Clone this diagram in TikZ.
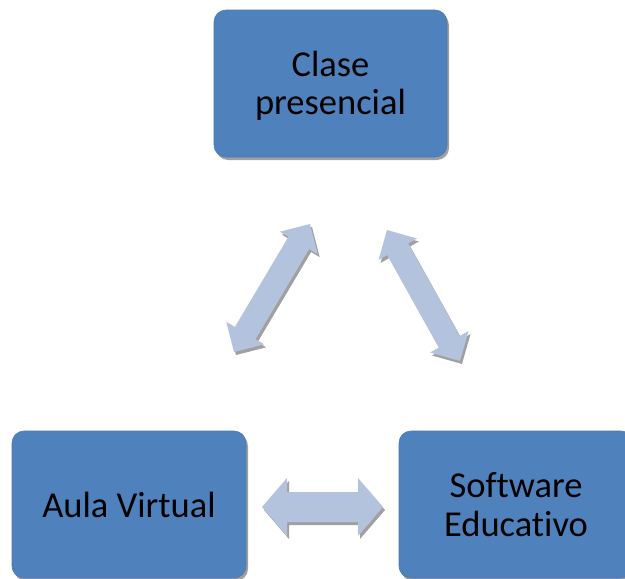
\documentclass[tikz,border=0pt]{standalone}
\usepackage{fontspec}
\setmainfont{Carlito}[Ligatures={NoCommon}]
\usetikzlibrary{calc,shadows}
\definecolor{boxblue}{HTML}{4F81BD}
\definecolor{boxedge}{HTML}{4A7AB3}
\definecolor{arrowfill}{HTML}{B3C3DE}
\definecolor{shadowgray}{HTML}{A0A0A0}
\tikzset{
  conceptbox/.style={rectangle, rounded corners=12pt, fill=boxblue, draw=boxedge,
    line width=0.6pt, minimum width=233pt, minimum height=147pt, inner sep=0pt,
    align=center, font=\fontsize{36.5}{38.5}\selectfont, text=black,
    drop shadow={shadow xshift=2pt, shadow yshift=-3pt, fill=shadowgray, opacity=1}},
  arrowbody/.style={fill=arrowfill, draw=none},
  arrowshadow/.style={fill=shadowgray, draw=none, transform canvas={xshift=2pt,yshift=-3pt}}
}
% #1 style, #2 tip A, #3 tip B, #4 head length, #5 head half width, #6 shaft half width
\newcommand{\dblarrowshape}[6]{%
  \path[#1] (#2) -- ($(#2h)!#5!90:(#3)$) -- ($(#2h)!#6!90:(#3)$)
    -- ($(#3h)!#6!-90:(#2)$) -- ($(#3h)!#5!-90:(#2)$) -- (#3)
    -- ($(#3h)!#5!90:(#2)$) -- ($(#3h)!#6!90:(#2)$)
    -- ($(#2h)!#6!-90:(#3)$) -- ($(#2h)!#5!-90:(#3)$) -- cycle;}
\newcommand{\dblarrow}[5]{%
  \coordinate (#1h) at ($(#1)!#3!(#2)$);
  \coordinate (#2h) at ($(#2)!#3!(#1)$);
  \dblarrowshape{arrowshadow}{#1}{#2}{#3}{#4}{#5}
  \dblarrowshape{arrowbody}{#1}{#2}{#3}{#4}{#5}}
\begin{document}
\begin{tikzpicture}[x=1pt,y=-1pt]
  \useasboundingbox (0,0) rectangle (625,579);
  \clip (0,0) rectangle (625,579);
  % boxes
  \node[conceptbox] (clase) at (330.5,83.5) {\rule{0pt}{30pt}Clase\\presencial};
  \node[conceptbox, minimum width=234pt] (aula) at (129,504.5) {Aula Virtual};
  \node[conceptbox, minimum width=234pt] (soft) at (516,504.5) {Software\\Educativo};
  % arrow end points
  \coordinate (la1) at (234,352);
  \coordinate (la2) at (310,224);
  \coordinate (ra1) at (387,230);
  \coordinate (ra2) at (460,361);
  \coordinate (ha1) at (262,507);
  \coordinate (ha2) at (383,507);
  \dblarrow{la1}{la2}{22pt}{22pt}{12pt}
  \dblarrow{ra1}{ra2}{22pt}{22pt}{12pt}
  \dblarrow{ha1}{ha2}{25pt}{29pt}{15pt}
\end{tikzpicture}
\end{document}
